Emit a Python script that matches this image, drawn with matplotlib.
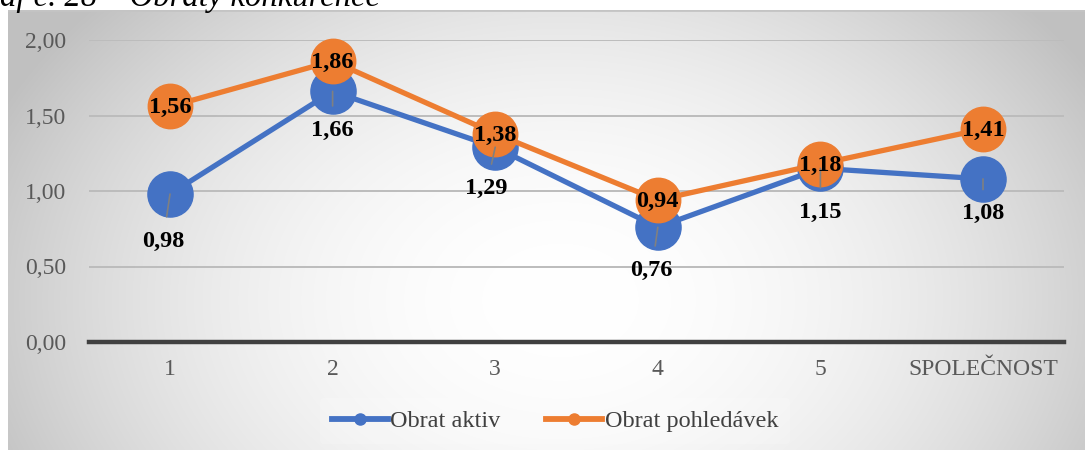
import numpy as np
import matplotlib
matplotlib.use("Agg")
import matplotlib.pyplot as plt
from matplotlib.lines import Line2D

# data
kategorie = ["1", "2", "3", "4", "5", "SPOLEČNOST"]
obrat_aktiv = [0.98, 1.66, 1.29, 0.76, 1.15, 1.08]
obrat_pohledavek = [1.56, 1.86, 1.38, 0.94, 1.18, 1.41]
y_ticks = [0.0, 0.5, 1.0, 1.5, 2.0]

# posun popisku modre rady (v pixelech), aby sedel jako v originalu
posun_dx = [-7, 0, -9, -6, 0, 0]
posun_dy = [-47, -39, -41, -43, -44, -35]

modra = "#4472C4"
oranzova = "#ED7D31"
serif = "Liberation Serif"

W, H = 1085, 450
fig = plt.figure(figsize=(W / 100, H / 100), dpi=100)
fig.patch.set_facecolor("white")


def px(x0, y0, x1, y1):
    # obdelnik v pixelech (od leveho horniho rohu) -> souradnice figury
    return [x0 / W, 1 - y1 / H, (x1 - x0) / W, (y1 - y0) / H]


# pozadi s radialnim prechodem
bg = fig.add_axes(px(8, 10, W, H))
bg.set_axis_off()
xx, yy = np.meshgrid(np.arange(8, W), np.arange(10, H))
d2 = ((xx - 560) / 620.0) ** 2 + ((yy - 300) / 450.0) ** 2
c = 255 - 63 * np.clip(d2, 0, 1)
bg.imshow(np.dstack([c, c, c]).astype(np.uint8), aspect="auto",
          extent=[0, 1, 0, 1])
bg.plot([0, 1], [1, 1], color="#c4c4c4", lw=2, transform=bg.transAxes)

# nadpis (v originalu oriznuty nahore)
fig.text(0, 1 - 6 / H, "af č. 28 – Obraty konkurence", family=serif,
         style="italic", fontsize=23.5, va="baseline", ha="left",
         color="black")

ax = fig.add_axes(px(88.7, 40, 1064.3, 342))
ax.set_facecolor("none")
x = np.arange(len(kategorie))
ax.set_xlim(-0.5, len(kategorie) - 0.5)
ax.set_ylim(0, 2)

for t in y_ticks[1:]:
    ax.axhline(t, color="#bcbcbc", lw=1.4, zorder=1)
ax.axhline(0, color="#404040", lw=3.2, zorder=2, clip_on=False)

ax.plot(x, obrat_aktiv, color=modra, lw=3.8, marker="o", markersize=32.5,
        zorder=3, clip_on=False)
ax.plot(x, obrat_pohledavek, color=oranzova, lw=3.8, marker="o",
        markersize=32, zorder=4, clip_on=False)

for i, v in enumerate(obrat_aktiv):
    ax.annotate(f"{v:.2f}".replace(".", ","), (x[i], v),
                xytext=(posun_dx[i] * 0.72, posun_dy[i] * 0.72),
                textcoords="offset points", ha="center", va="center",
                family=serif, fontweight="bold", fontsize=17.5, color="black",
                zorder=6, annotation_clip=False,
                arrowprops=dict(arrowstyle="-", color="#808080", lw=1.2,
                                shrinkA=8, shrinkB=0))
for i, v in enumerate(obrat_pohledavek):
    ax.annotate(f"{v:.2f}".replace(".", ","), (x[i], v),
                xytext=(0, -1), textcoords="offset points", ha="center",
                va="center", family=serif, fontweight="bold", fontsize=17.5,
                color="black", zorder=6, annotation_clip=False)

ax.set_xticks(x)
ax.set_xticklabels(kategorie)
ax.set_yticks(y_ticks)
ax.set_yticklabels([f"{t:.2f}".replace(".", ",") for t in y_ticks])
ax.tick_params(length=0, labelsize=17, labelcolor="#595959", pad=16)
ax.tick_params(axis="x", pad=12)
for lbl in ax.get_xticklabels() + ax.get_yticklabels():
    lbl.set_family(serif)
for s in ax.spines.values():
    s.set_visible(False)

handles = [
    Line2D([], [], color=modra, lw=4.2, marker="o", markersize=8),
    Line2D([], [], color=oranzova, lw=4.2, marker="o", markersize=8),
]
leg = fig.legend(handles, ["Obrat aktiv", "Obrat pohledávek"], ncol=2,
                 loc="center", bbox_to_anchor=(555 / W, 1 - 421 / H),
                 frameon=True, handlelength=2.3, handletextpad=0.1,
                 columnspacing=1.9, borderpad=0.5,
                 prop={"family": serif, "size": 17.5})
leg.get_frame().set_facecolor("white")
leg.get_frame().set_alpha(0.18)
leg.get_frame().set_edgecolor("none")
for t in leg.get_texts():
    t.set_color("#404040")

fig.savefig("out.png", dpi=100)
